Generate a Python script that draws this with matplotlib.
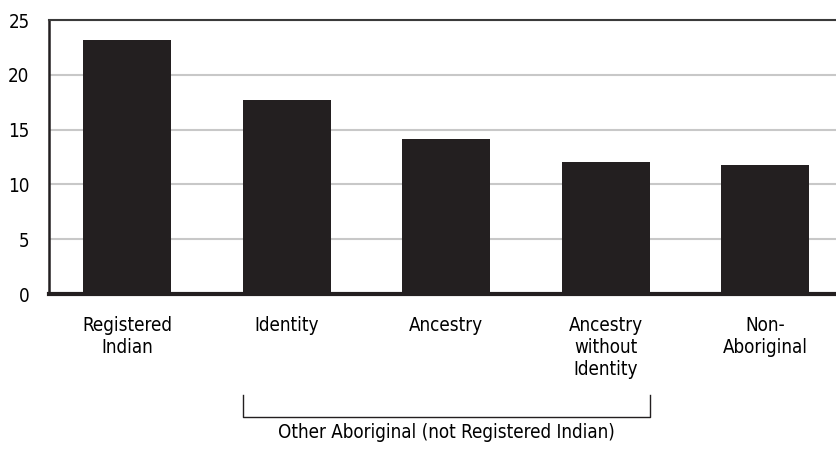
import matplotlib.pyplot as plt
from matplotlib.transforms import blended_transform_factory

categories = ["Registered\nIndian", "Identity", "Ancestry",
              "Ancestry\nwithout\nIdentity", "Non-\nAboriginal"]
values = [23.2, 17.7, 14.1, 12.0, 11.8]
yticks = [0, 5, 10, 15, 20, 25]
group_label = "Other Aboriginal (not Registered Indian)"

plt.rcParams['font.family'] = ['DejaVu Sans']
plt.rcParams['font.stretch'] = 'condensed'

fig = plt.figure(figsize=(8.37, 4.49), dpi=100)
ax = fig.add_axes([49 / 837, 1 - 294 / 449, (837 - 49) / 837, 274 / 449])

bar_w = 0.55
x = list(range(len(categories)))
ax.bar(x, values, width=bar_w, color="#231f20", zorder=3)

ax.set_xlim(-0.49, 4.45)
ax.set_ylim(0, 25)
ax.set_yticks(yticks)
ax.yaxis.grid(True, color="#c8c8c8", linewidth=1.5, zorder=0)
ax.set_axisbelow(True)
ax.set_xticks(x)
ax.set_xticklabels(categories, fontsize=13.5, linespacing=1.2, va="top")
ax.tick_params(axis="x", length=0, pad=16)
ax.tick_params(axis="y", length=0, pad=14, labelsize=13.5)

for side in ["top", "right"]:
    ax.spines[side].set_visible(False)
ax.spines["left"].set_linewidth(1.8)
ax.spines["left"].set_color("#231f20")
ax.spines["bottom"].set_linewidth(3)
ax.spines["bottom"].set_color("#231f20")
ax.axhline(25, color="#3a3a3a", linewidth=1.5, zorder=4, clip_on=False)

# bracket under the "other aboriginal" group
trans = blended_transform_factory(ax.transData, ax.transAxes)
x0 = 1 - bar_w / 2
x1 = 3 + bar_w / 2
ax.plot([x0, x0, x1, x1], [-0.369, -0.449, -0.449, -0.369], color="#231f20",
        linewidth=1, transform=trans, clip_on=False)
ax.text(2, -0.505, group_label, transform=trans, ha="center", va="center",
        fontsize=13.5)

plt.savefig("out.png", dpi=100)
